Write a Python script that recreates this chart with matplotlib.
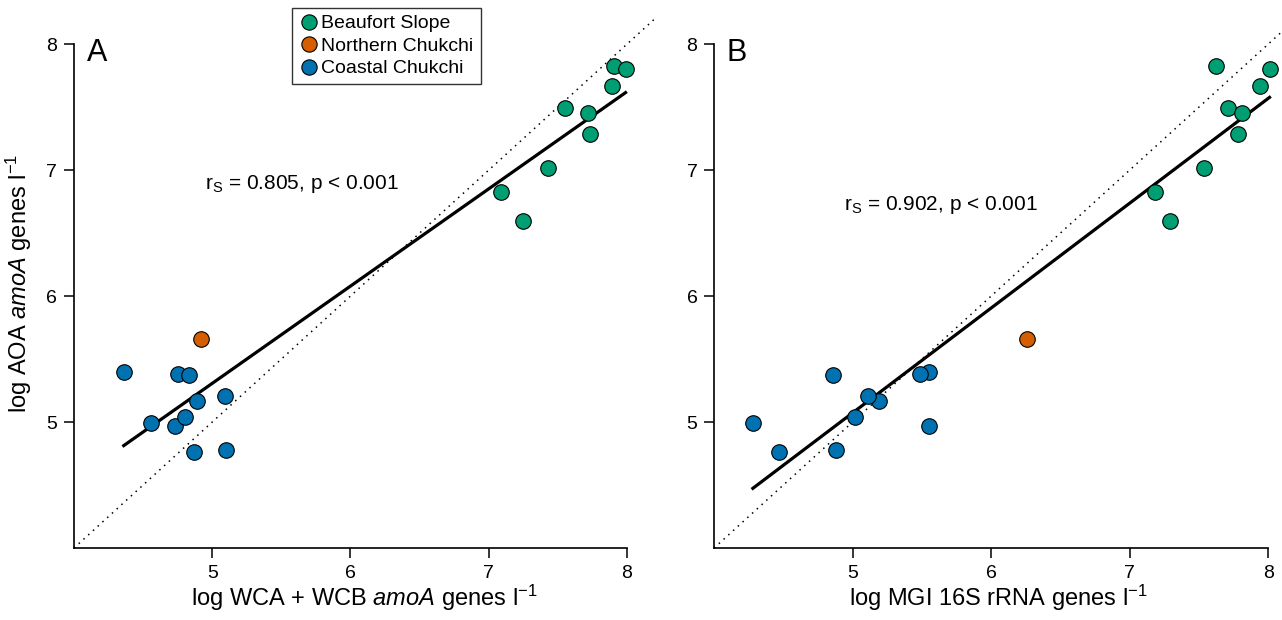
import numpy as np
import matplotlib
matplotlib.use("Agg")
import matplotlib.pyplot as plt
from matplotlib.lines import Line2D

plt.rcParams['font.family'] = ['Liberation Sans', 'DejaVu Sans']
plt.rcParams['mathtext.fontset'] = 'custom'
plt.rcParams['mathtext.rm'] = 'Liberation Sans'
plt.rcParams['mathtext.it'] = 'Liberation Sans:italic'

# station groups and colours
groups = ["Beaufort Slope", "Northern Chukchi", "Coastal Chukchi"]
group_colors = ["#009E73", "#D55E00", "#0072B2"]

# log AOA amoA genes per litre (y, shared by both panels)
aoa_beaufort = [7.83, 7.80, 7.67, 7.49, 7.45, 7.29, 7.02, 6.83, 6.60]
aoa_northern = [5.66]
aoa_coastal = [5.40, 4.99, 4.97, 5.38, 5.37, 5.04, 5.17, 4.76, 5.21, 4.78]

# panel A: log WCA + WCB amoA genes per litre
wc_beaufort = [7.91, 7.99, 7.89, 7.55, 7.72, 7.73, 7.43, 7.09, 7.25]
wc_northern = [4.92]
wc_coastal = [4.36, 4.56, 4.73, 4.75, 4.83, 4.80, 4.89, 4.87, 5.09, 5.10]

# panel B: log MGI 16S rRNA genes per litre (same sample order as y)
mgi_beaufort = [7.62, 8.01, 7.94, 7.71, 7.81, 7.78, 7.54, 7.18, 7.29]
mgi_northern = [6.26]
mgi_coastal = [5.55, 4.28, 5.55, 5.49, 4.86, 5.02, 5.19, 4.47, 5.11, 4.88]

ticks = [5, 6, 7, 8]

fig = plt.figure(figsize=(12.82, 6.2), dpi=100)
axA = fig.add_axes([0.0577, 0.1161, 0.4529, 0.8533])
axB = fig.add_axes([0.557, 0.1161, 0.443, 0.8533])


def panel(ax, xs, label, xlabel, stat, stat_xy, xmax):
    ys = [aoa_beaufort, aoa_northern, aoa_coastal]
    ax.set_xlim(4, xmax)
    ax.set_ylim(4, 8.2)
    # 1:1 line
    ax.plot([4, 8.3], [4, 8.3], color='black', linestyle=(0, (1, 3.2)),
            linewidth=1.1, zorder=1)
    # linear fit over all points
    allx = np.concatenate([np.array(v) for v in xs])
    ally = np.concatenate([np.array(v) for v in ys])
    k, b = np.polyfit(allx, ally, 1)
    fx = np.array([allx.min(), allx.max()])
    ax.plot(fx, k * fx + b, color='black', linewidth=2.3, zorder=2)
    for x, y, c in zip(xs, ys, group_colors):
        ax.scatter(x, y, s=125, color=c, edgecolor='black', linewidth=0.8,
                   zorder=3)
    for s in ['top', 'right']:
        ax.spines[s].set_visible(False)
    ax.spines['left'].set_bounds(4, 8)
    ax.spines['bottom'].set_bounds(4, 8)
    ax.spines['left'].set_linewidth(1.2)
    ax.spines['bottom'].set_linewidth(1.2)
    ax.set_xticks(ticks)
    ax.set_yticks(ticks)
    ax.tick_params(direction='out', length=7, width=1.1, labelsize=14, pad=5)
    ax.set_xlabel(xlabel, fontsize=17, labelpad=1)
    ax.text(0.022, 0.936, label, transform=ax.transAxes, fontsize=22,
            va='center', ha='left')
    ax.text(stat_xy[0], stat_xy[1], stat, fontsize=15, va='center', ha='left')


panel(axA, [wc_beaufort, wc_northern, wc_coastal], "A",
      r'log WCA + WCB $\it{amoA}$ genes l$^{-1}$',
      r'r$_{\rm S}$ = 0.805, p < 0.001', (4.95, 6.89), 4 + 4.2)
panel(axB, [mgi_beaufort, mgi_northern, mgi_coastal], "B",
      r'log MGI 16S rRNA genes l$^{-1}$',
      r'r$_{\rm S}$ = 0.902, p < 0.001', (4.94, 6.72), 8.1)
axA.set_ylabel(r'log AOA $\it{amoA}$ genes l$^{-1}$', fontsize=17, labelpad=9)

handles = [Line2D([], [], marker='o', linestyle='none', markersize=11,
                  markerfacecolor=c, markeredgecolor='black',
                  markeredgewidth=0.8) for c in group_colors]
fig.legend(handles, groups, loc='upper left', bbox_to_anchor=(0.228, 0.987),
           fontsize=14, frameon=True, fancybox=False, edgecolor='black',
           handletextpad=0.15, borderpad=0.35, labelspacing=0.25,
           handlelength=1.0, borderaxespad=0)

fig.savefig("out.png", dpi=100)
